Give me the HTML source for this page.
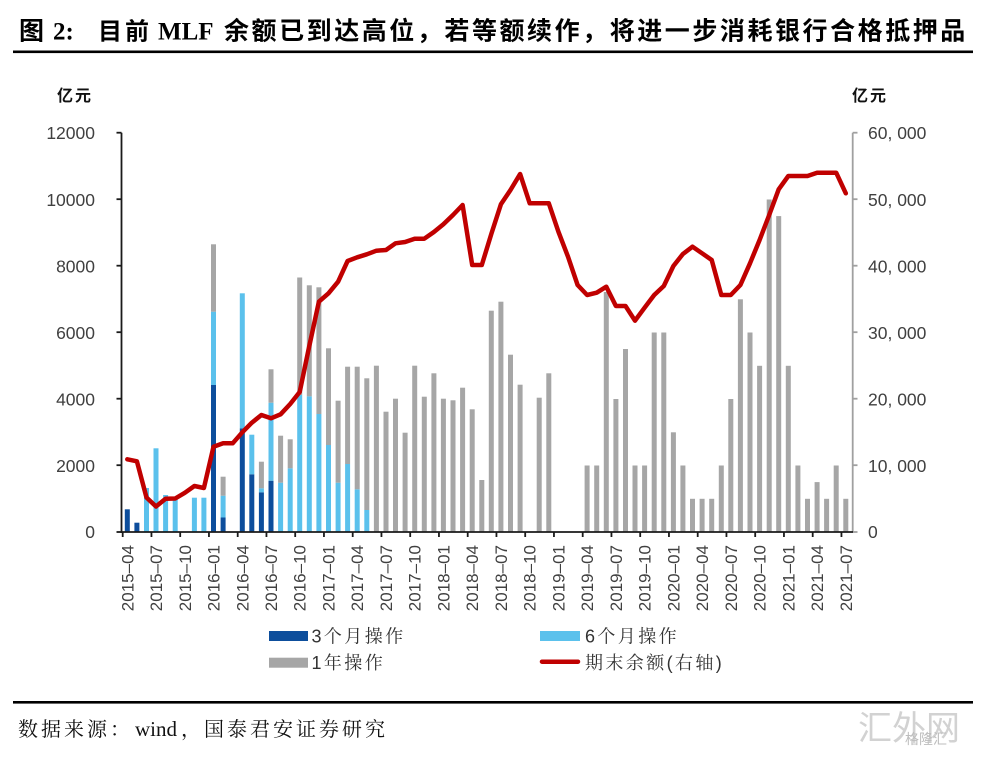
<!DOCTYPE html>
<html>
<head>
<meta charset="utf-8">
<style>
  html,body{margin:0;padding:0;background:#fff;}
  body{width:986px;height:757px;overflow:hidden;}
  svg{display:block;}
  .cjkb{font-family:"Liberation Serif","Noto Sans CJK SC",sans-serif;font-weight:700;}
  .ser{font-family:"Liberation Serif","Noto Serif CJK SC",serif;}
  .num{font-family:"Liberation Sans",sans-serif;fill:#404040;}
  .leg{font-family:"Liberation Sans","Noto Serif CJK SC",sans-serif;fill:#333;}
</style>
</head>
<body>
<svg width="986" height="757" viewBox="0 0 986 757" xmlns="http://www.w3.org/2000/svg">
  <rect x="0" y="0" width="986" height="757" fill="#fff"/>

  <!-- Title -->
  <text class="cjkb" x="19" y="39.5" font-size="25" fill="#000">图</text>
  <text x="53" y="39.5" font-size="25" font-family="Liberation Serif, serif" font-weight="700" fill="#000">2:</text>
  <text class="cjkb" x="98" y="39.5" font-size="24" letter-spacing="3" fill="#000">目前</text>
  <text x="158" y="39.5" font-size="25" font-family="Liberation Serif, serif" font-weight="700" fill="#000">MLF</text>
  <text class="cjkb" x="224" y="39.5" font-size="25" letter-spacing="2.55" fill="#000">余额已到达高位，若等额续作，将进一步消耗银行合格抵押品</text>
  <rect x="13" y="50.5" width="960" height="2.6" fill="#000"/>

  <!-- Axis units -->
  <text class="cjkb" x="57" y="101" font-size="16" letter-spacing="2" fill="#111">亿元</text>
  <text class="cjkb" x="852" y="101" font-size="16" letter-spacing="2" fill="#111">亿元</text>

  <!-- Left axis labels -->
  <g class="num" font-size="17.5" text-anchor="end">
    <text x="95" y="139">12000</text>
    <text x="95" y="206">10000</text>
    <text x="95" y="272.5">8000</text>
    <text x="95" y="339">6000</text>
    <text x="95" y="405.5">4000</text>
    <text x="95" y="472">2000</text>
    <text x="95" y="538">0</text>
  </g>
  <!-- Right axis labels -->
  <g class="num" font-size="17.5">
    <text x="868" y="139">60, 000</text>
    <text x="868" y="206">50, 000</text>
    <text x="868" y="272.5">40, 000</text>
    <text x="868" y="339">30, 000</text>
    <text x="868" y="405.5">20, 000</text>
    <text x="868" y="472">10, 000</text>
    <text x="868" y="538">0</text>
  </g>

  <!-- Bars: dark blue (3个月) -->
  <g fill="#0D4E9C">
    <rect x="124.8" y="509.3" width="5" height="22.7"/>
    <rect x="134.4" y="522.7" width="5" height="9.3"/>
    <rect x="211" y="385" width="5" height="147"/>
    <rect x="220.6" y="517.5" width="5" height="14.5"/>
    <rect x="239.8" y="428.3" width="5" height="103.7"/>
    <rect x="249.3" y="474.3" width="5" height="57.7"/>
    <rect x="258.9" y="492.3" width="5" height="39.7"/>
    <rect x="268.5" y="480.7" width="5" height="51.3"/>
  </g>
  <!-- Bars: light blue (6个月) -->
  <g fill="#5BC1EC">
    <rect x="144" y="488" width="5" height="44"/>
    <rect x="153.5" y="448.3" width="5" height="83.7"/>
    <rect x="163.1" y="495" width="5" height="37"/>
    <rect x="172.7" y="498.3" width="5" height="33.7"/>
    <rect x="191.9" y="497.7" width="5" height="34.3"/>
    <rect x="201.4" y="497.7" width="5" height="34.3"/>
    <rect x="211" y="311.7" width="5" height="73.3"/>
    <rect x="220.6" y="495.7" width="5" height="21.8"/>
    <rect x="239.8" y="293.3" width="5" height="135"/>
    <rect x="249.3" y="434.7" width="5" height="39.6"/>
    <rect x="258.9" y="488.3" width="5" height="4"/>
    <rect x="268.5" y="402.7" width="5" height="78"/>
    <rect x="278.1" y="482.7" width="5" height="49.3"/>
    <rect x="287.7" y="468.3" width="5" height="63.7"/>
    <rect x="297.2" y="395" width="5" height="137"/>
    <rect x="306.8" y="396.3" width="5" height="135.7"/>
    <rect x="316.4" y="414" width="5" height="118"/>
    <rect x="326" y="445" width="5" height="87"/>
    <rect x="335.6" y="482.7" width="5" height="49.3"/>
    <rect x="345.1" y="464" width="5" height="68"/>
    <rect x="354.7" y="489.3" width="5" height="42.7"/>
    <rect x="364.3" y="510" width="5" height="22"/>
  </g>
  <!-- Bars: gray (1年) -->
  <g fill="#A6A6A6">
    <rect x="211" y="244.3" width="5" height="67.4"/>
    <rect x="220.6" y="476.7" width="5" height="19"/>
    <rect x="258.9" y="461.7" width="5" height="26.6"/>
    <rect x="268.5" y="369.3" width="5" height="33.4"/>
    <rect x="278.1" y="435.7" width="5" height="47"/>
    <rect x="287.7" y="439.3" width="5" height="29"/>
    <rect x="297.2" y="277.5" width="5" height="117.5"/>
    <rect x="306.8" y="285.3" width="5" height="111"/>
    <rect x="316.4" y="287.3" width="5" height="126.7"/>
    <rect x="326" y="348.3" width="5" height="96.7"/>
    <rect x="335.6" y="400.7" width="5" height="82"/>
    <rect x="345.1" y="366.7" width="5" height="97.3"/>
    <rect x="354.7" y="366.7" width="5" height="122.6"/>
    <rect x="364.3" y="378.3" width="5" height="131.7"/>
    <rect x="373.9" y="365.7" width="5" height="166.3"/>
    <rect x="383.5" y="411.7" width="5" height="120.3"/>
    <rect x="393" y="398.7" width="5" height="133.3"/>
    <rect x="402.6" y="432.7" width="5" height="99.3"/>
    <rect x="412.2" y="365.7" width="5" height="166.3"/>
    <rect x="421.8" y="396.7" width="5" height="135.3"/>
    <rect x="431.4" y="373.3" width="5" height="158.7"/>
    <rect x="440.9" y="398.7" width="5" height="133.3"/>
    <rect x="450.5" y="400.3" width="5" height="131.7"/>
    <rect x="460.1" y="387.7" width="5" height="144.3"/>
    <rect x="469.7" y="409.3" width="5" height="122.7"/>
    <rect x="479.3" y="480" width="5" height="52"/>
    <rect x="488.8" y="310.7" width="5" height="221.3"/>
    <rect x="498.4" y="301.7" width="5" height="230.3"/>
    <rect x="508" y="354.7" width="5" height="177.3"/>
    <rect x="517.6" y="384.7" width="5" height="147.3"/>
    <rect x="536.7" y="397.7" width="5" height="134.3"/>
    <rect x="546.3" y="373.3" width="5" height="158.7"/>
    <rect x="584.6" y="465.5" width="5" height="66.5"/>
    <rect x="594.2" y="465.5" width="5" height="66.5"/>
    <rect x="603.8" y="292" width="5" height="240"/>
    <rect x="613.4" y="399" width="5" height="133"/>
    <rect x="623" y="349" width="5" height="183"/>
    <rect x="632.5" y="465.5" width="5" height="66.5"/>
    <rect x="642.1" y="465.5" width="5" height="66.5"/>
    <rect x="651.7" y="332.5" width="5" height="199.5"/>
    <rect x="661.3" y="332.5" width="5" height="199.5"/>
    <rect x="670.9" y="432.3" width="5" height="99.7"/>
    <rect x="680.4" y="465.5" width="5" height="66.5"/>
    <rect x="690" y="498.8" width="5" height="33.2"/>
    <rect x="699.6" y="498.8" width="5" height="33.2"/>
    <rect x="709.2" y="498.8" width="5" height="33.2"/>
    <rect x="718.8" y="465.5" width="5" height="66.5"/>
    <rect x="728.3" y="399" width="5" height="133"/>
    <rect x="737.9" y="299.3" width="5" height="232.7"/>
    <rect x="747.5" y="332.5" width="5" height="199.5"/>
    <rect x="757.1" y="365.8" width="5" height="166.2"/>
    <rect x="766.7" y="199.5" width="5" height="332.5"/>
    <rect x="776.2" y="216.1" width="5" height="315.9"/>
    <rect x="785.8" y="365.8" width="5" height="166.2"/>
    <rect x="795.4" y="465.5" width="5" height="66.5"/>
    <rect x="805" y="498.8" width="5" height="33.2"/>
    <rect x="814.6" y="482.1" width="5" height="49.9"/>
    <rect x="824.1" y="498.8" width="5" height="33.2"/>
    <rect x="833.7" y="465.5" width="5" height="66.5"/>
    <rect x="843.3" y="498.8" width="5" height="33.2"/>
  </g>

  <!-- Axes -->
  <g stroke="#1a1a1a" stroke-width="1.8" fill="none">
    <line x1="121.5" y1="132.7" x2="121.5" y2="533"/>
    <line x1="116.5" y1="132.7" x2="121.5" y2="132.7"/>
    <line x1="116.5" y1="199.2" x2="121.5" y2="199.2"/>
    <line x1="116.5" y1="265.7" x2="121.5" y2="265.7"/>
    <line x1="116.5" y1="332.2" x2="121.5" y2="332.2"/>
    <line x1="116.5" y1="398.7" x2="121.5" y2="398.7"/>
    <line x1="116.5" y1="465.2" x2="121.5" y2="465.2"/>
    <line x1="116.5" y1="532" x2="121.5" y2="532"/>
  </g>
  <g stroke="#A0A0A0" stroke-width="1.8" fill="none">
    <line x1="852.7" y1="132.7" x2="852.7" y2="532"/>
    <line x1="852.7" y1="132.7" x2="857.5" y2="132.7"/>
    <line x1="852.7" y1="199.2" x2="857.5" y2="199.2"/>
    <line x1="852.7" y1="265.7" x2="857.5" y2="265.7"/>
    <line x1="852.7" y1="332.2" x2="857.5" y2="332.2"/>
    <line x1="852.7" y1="398.7" x2="857.5" y2="398.7"/>
    <line x1="852.7" y1="465.2" x2="857.5" y2="465.2"/>
    <line x1="852.7" y1="532" x2="857.5" y2="532"/>
  </g>
  <g stroke="#1a1a1a" stroke-width="1.8" fill="none">
    <line x1="120.6" y1="532" x2="853" y2="532"/>
    <line x1="122.7" y1="532" x2="122.7" y2="537"/>
    <line x1="151.45" y1="532" x2="151.45" y2="537"/>
    <line x1="180.2" y1="532" x2="180.2" y2="537"/>
    <line x1="208.95" y1="532" x2="208.95" y2="537"/>
    <line x1="237.7" y1="532" x2="237.7" y2="537"/>
    <line x1="266.45" y1="532" x2="266.45" y2="537"/>
    <line x1="295.2" y1="532" x2="295.2" y2="537"/>
    <line x1="323.95" y1="532" x2="323.95" y2="537"/>
    <line x1="352.7" y1="532" x2="352.7" y2="537"/>
    <line x1="381.45" y1="532" x2="381.45" y2="537"/>
    <line x1="410.2" y1="532" x2="410.2" y2="537"/>
    <line x1="438.95" y1="532" x2="438.95" y2="537"/>
    <line x1="467.7" y1="532" x2="467.7" y2="537"/>
    <line x1="496.45" y1="532" x2="496.45" y2="537"/>
    <line x1="525.2" y1="532" x2="525.2" y2="537"/>
    <line x1="553.95" y1="532" x2="553.95" y2="537"/>
    <line x1="582.7" y1="532" x2="582.7" y2="537"/>
    <line x1="611.45" y1="532" x2="611.45" y2="537"/>
    <line x1="640.2" y1="532" x2="640.2" y2="537"/>
    <line x1="668.95" y1="532" x2="668.95" y2="537"/>
    <line x1="697.7" y1="532" x2="697.7" y2="537"/>
    <line x1="726.45" y1="532" x2="726.45" y2="537"/>
    <line x1="755.2" y1="532" x2="755.2" y2="537"/>
    <line x1="783.95" y1="532" x2="783.95" y2="537"/>
    <line x1="812.7" y1="532" x2="812.7" y2="537"/>
    <line x1="841.45" y1="532" x2="841.45" y2="537"/>
  </g>

  <!-- X labels (rotated) -->
  <g class="num" font-size="17" text-anchor="end">
    <text transform="translate(133.3,545) rotate(-90)">2015–04</text>
    <text transform="translate(162.0,545) rotate(-90)">2015–07</text>
    <text transform="translate(190.8,545) rotate(-90)">2015–10</text>
    <text transform="translate(219.5,545) rotate(-90)">2016–01</text>
    <text transform="translate(248.3,545) rotate(-90)">2016–04</text>
    <text transform="translate(277.0,545) rotate(-90)">2016–07</text>
    <text transform="translate(305.7,545) rotate(-90)">2016–10</text>
    <text transform="translate(334.5,545) rotate(-90)">2017–01</text>
    <text transform="translate(363.2,545) rotate(-90)">2017–04</text>
    <text transform="translate(392.0,545) rotate(-90)">2017–07</text>
    <text transform="translate(420.7,545) rotate(-90)">2017–10</text>
    <text transform="translate(449.4,545) rotate(-90)">2018–01</text>
    <text transform="translate(478.2,545) rotate(-90)">2018–04</text>
    <text transform="translate(506.9,545) rotate(-90)">2018–07</text>
    <text transform="translate(535.7,545) rotate(-90)">2018–10</text>
    <text transform="translate(564.4,545) rotate(-90)">2019–01</text>
    <text transform="translate(593.1,545) rotate(-90)">2019–04</text>
    <text transform="translate(621.9,545) rotate(-90)">2019–07</text>
    <text transform="translate(650.6,545) rotate(-90)">2019–10</text>
    <text transform="translate(679.4,545) rotate(-90)">2020–01</text>
    <text transform="translate(708.1,545) rotate(-90)">2020–04</text>
    <text transform="translate(736.8,545) rotate(-90)">2020–07</text>
    <text transform="translate(765.6,545) rotate(-90)">2020–10</text>
    <text transform="translate(794.3,545) rotate(-90)">2021–01</text>
    <text transform="translate(823.1,545) rotate(-90)">2021–04</text>
    <text transform="translate(851.8,545) rotate(-90)">2021–07</text>
  </g>

  <!-- Line: 期末余额 (right axis) -->
  <polyline fill="none" stroke="#C00000" stroke-width="4.5" stroke-linejoin="round" stroke-linecap="round"
    points="127.3,459.3 136.9,461.3 146.5,497.5 156.0,506.5 165.6,498.7 175.2,498.5 184.8,492.8 194.4,486 203.9,488 213.5,446.7 223.1,443.3 232.7,443.3 242.3,432.3 251.8,422.7 261.4,415 271.0,418.3 280.6,414.3 290.2,404 299.7,392 309.3,346 318.9,301.7 328.5,293.3 338.1,281.7 347.6,261 357.2,257.3 366.8,254.3 376.4,250.7 386.0,250 395.5,243.3 405.1,242 414.7,238.7 424.3,238.7 433.9,232 443.4,224.3 453.0,215 462.6,205 472.2,265 481.8,265 491.3,234 500.9,204.3 510.5,190 520.1,174 529.7,203.3 539.2,203.3 548.8,203.3 558.4,231.7 568.0,256.7 577.6,285 587.1,295 596.7,292.7 606.3,286.7 615.9,306 625.5,306 635.0,320.7 644.6,307.7 654.2,295 663.8,286 673.4,266 682.9,254 692.5,246.7 702.1,253.3 711.7,260 721.3,295 730.8,295 740.4,285 750.0,263.3 759.6,240 769.2,215 778.7,189.3 788.3,176 797.9,176 807.5,176 817.1,172.7 826.6,172.7 836.2,172.7 845.8,193.3"/>

  <!-- Legend -->
  <rect x="269" y="631" width="39" height="10" fill="#0D4E9C"/>
  <text class="leg" x="311.5" y="642.5" font-size="18" letter-spacing="2.4">3个月操作</text>
  <rect x="269" y="657.7" width="39" height="10" fill="#A6A6A6"/>
  <text class="leg" x="311.5" y="669" font-size="18" letter-spacing="2.4">1年操作</text>
  <rect x="540" y="631" width="40" height="10" fill="#5BC1EC"/>
  <text class="leg" x="585" y="642.5" font-size="18" letter-spacing="2.4">6个月操作</text>
  <line x1="542" y1="661.7" x2="578" y2="661.7" stroke="#C00000" stroke-width="4.5" stroke-linecap="round"/>
  <text class="leg" x="585" y="669" font-size="18" letter-spacing="2.4">期末余额(右轴)</text>

  <!-- Footer -->
  <rect x="13" y="701" width="960" height="2.6" fill="#000"/>
  <text class="ser" x="18" y="736" font-size="20" letter-spacing="3" fill="#111">数据来源：</text>
  <text class="ser" x="135" y="736" font-size="21" fill="#111">wind</text>
  <text class="ser" x="181" y="736" font-size="20" letter-spacing="3" fill="#111">，国泰君安证券研究</text>

  <!-- Watermark -->
  <text x="858" y="740" font-size="34" font-family="Liberation Sans, Noto Sans CJK SC, sans-serif" fill="#d2d2d2">汇外网</text>
  <text x="905" y="744" font-size="14" font-family="Liberation Sans, Noto Sans CJK SC, sans-serif" fill="#bdbdbd">格隆汇</text>
</svg>
</body>
</html>
